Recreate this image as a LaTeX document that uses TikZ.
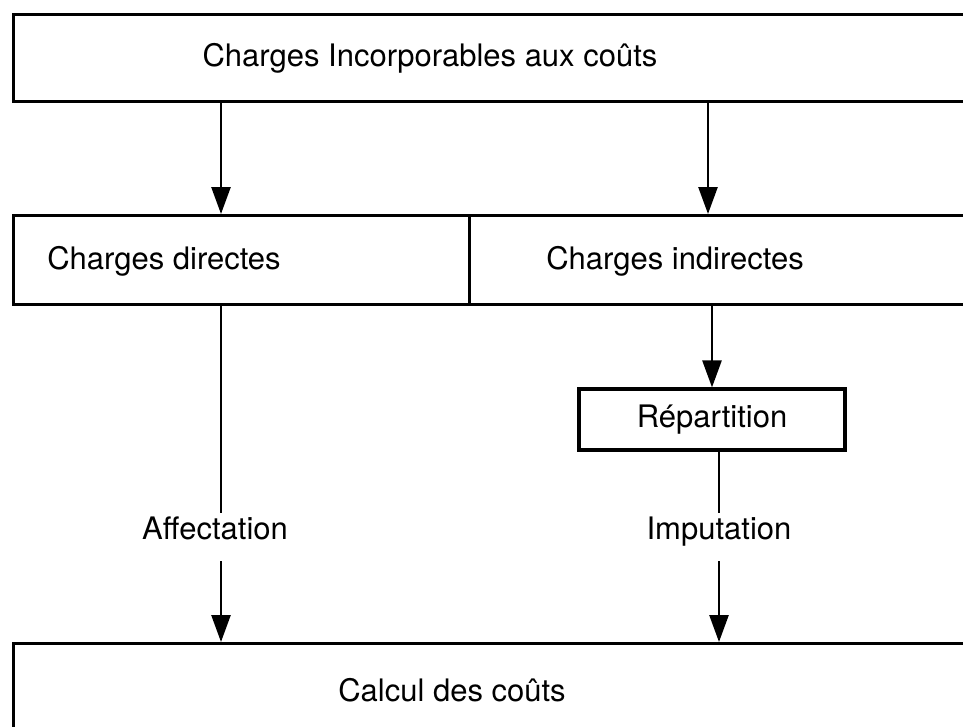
\documentclass[tikz,border=0pt]{standalone}
\usepackage{fontspec}
\setmainfont{TeX Gyre Heros}
\usetikzlibrary{positioning, arrows.meta}

\begin{document}
\begin{tikzpicture}[x=1pt, y=-1pt, >={Triangle[length=27pt, width=19pt]}, every node/.style={font=\fontsize{31}{36}\selectfont}]
            \tikzset{
                box/.style={
                        draw, line width=3.2pt, inner sep=0pt, anchor=north west
                    },
                smallbox/.style={
                        draw, line width=3.2pt, inner sep=0pt, minimum width=266pt, minimum height=61pt
                    },
                lbl/.style={
                        inner sep=0pt, text height=0.72em, text depth=0.21em, minimum height=48pt
                    },
                link/.style={line width=2.6pt}
            }

            % Frame
            \useasboundingbox (0,0) rectangle (963,726);
            \clip (0,0) rectangle (963,726);

            % Columns
            \coordinate (colL) at (221,0);
            \coordinate (colR) at (708,0);
            \coordinate (colI) at (719,0);

            % Boxes
            \node[box, minimum width=1100pt, minimum height=87pt] (incorp) at (12,13) {};
            \node[box, minimum width=456pt, minimum height=89pt] (direct) at (12,214) {};
            \node[box, minimum width=600pt, minimum height=89pt] (indirect) at (468,214) {};
            \node[box, minimum width=1100pt, minimum height=200pt] (calcul) at (12,642) {};
            \node[smallbox] (repart) at (712,419.5) {Répartition};

            % Texts
            \node (incorpT) at (430,58) {Charges Incorporables aux coûts};
            \node (directT) at (164,261) {Charges directes};
            \node (indirectT) at (675,261) {Charges indirectes};
            \node (calculT) at (452,690) {Calcul des coûts};
            \node[lbl] (affect) at (215,537) {Affectation};
            \node[lbl] (imput) at (719,537) {Imputation};

            % Links
            \draw[->, link] (incorp.south -| colL) -- (direct.north -| colL);
            \draw[->, link] (incorp.south -| colR) -- (indirect.north -| colR);
            \draw[->, link] (indirect.south -| repart.north) -- (repart.north);

            \draw[link] (direct.south -| colL) -- (affect.north -| colL);
            \draw[->, link] (affect.south -| colL) -- (calcul.north -| colL);

            \draw[link] (repart.south -| colI) -- (imput.north -| colI);
            \draw[->, link] (imput.south -| colI) -- (calcul.north -| colI);
        \end{tikzpicture}
\end{document}
